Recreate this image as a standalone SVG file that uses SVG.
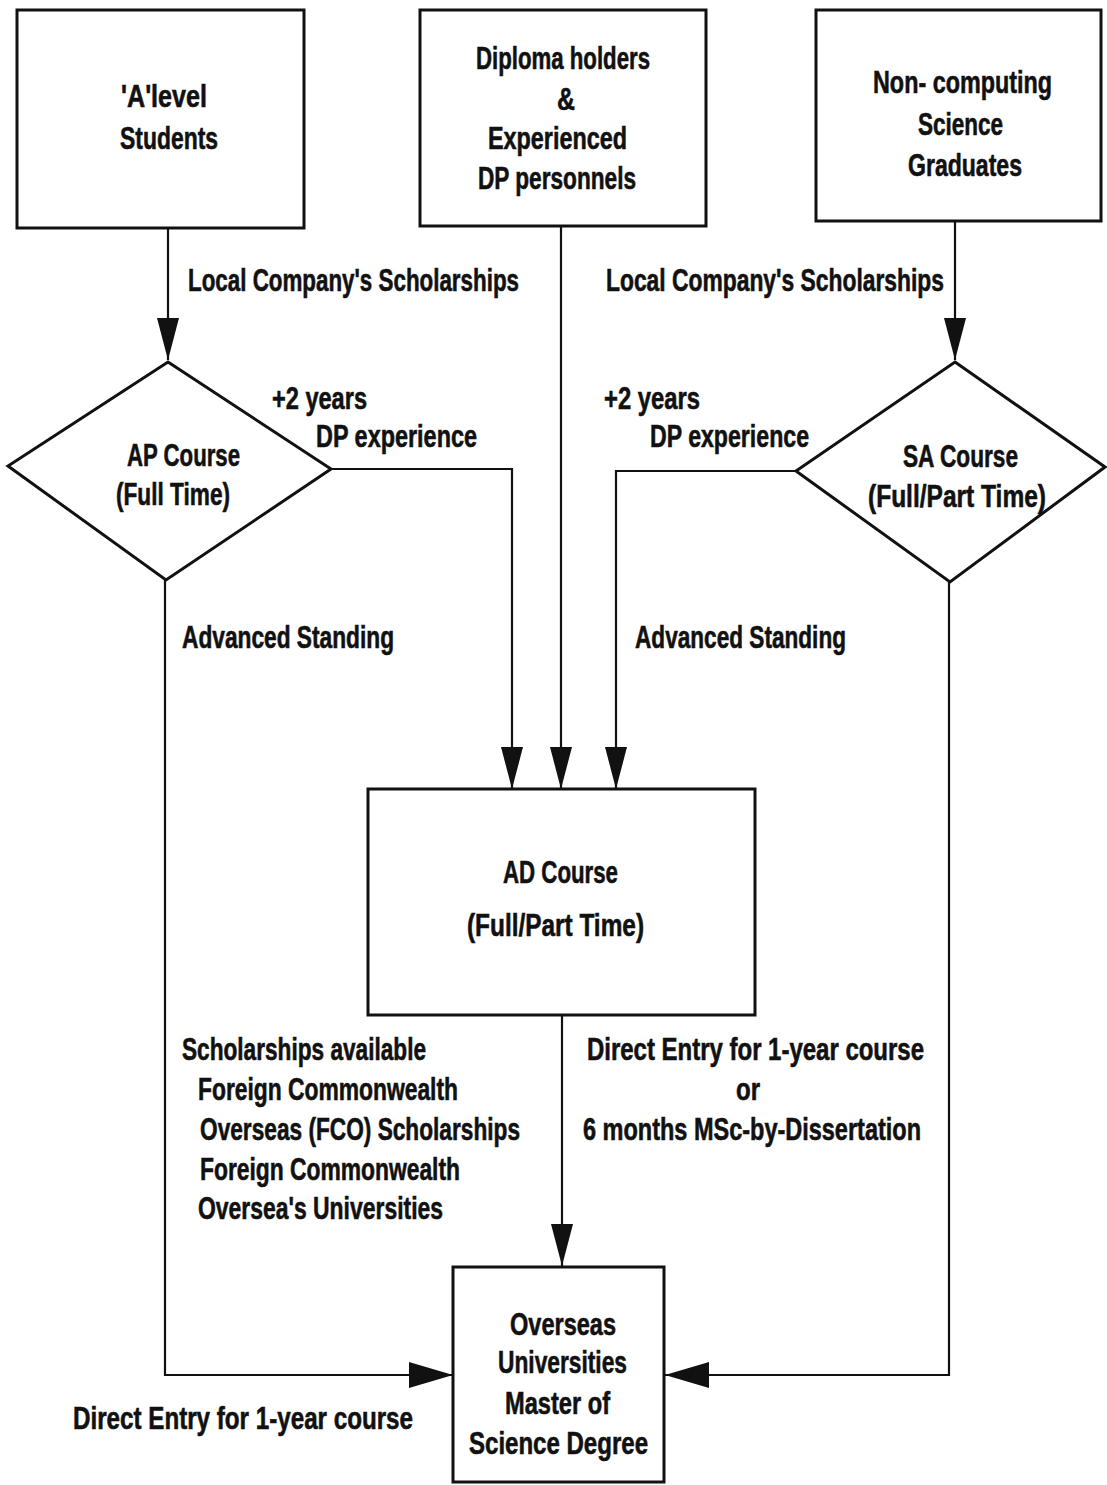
<svg xmlns="http://www.w3.org/2000/svg" width="1107" height="1485" viewBox="0 0 1107 1485">
<style>
.box{fill:#fff;stroke:#111;stroke-width:3}
.t{font-family:"Liberation Sans",Arial,sans-serif;font-weight:bold;font-size:32px;fill:#111;stroke:#111;stroke-width:0.6}
.c{fill:none;stroke:#111;stroke-width:2.2}
</style>
<defs>
<marker id="ah" viewBox="0 0 42 22" refX="42" refY="11" markerWidth="42" markerHeight="22" markerUnits="userSpaceOnUse" orient="auto">
<path d="M0,0 L42,11 L0,22 Z" fill="#111"/>
</marker>
<marker id="ahw" viewBox="0 0 44 26" refX="44" refY="13" markerWidth="44" markerHeight="26" markerUnits="userSpaceOnUse" orient="auto">
<path d="M0,0 L44,13 L0,26 Z" fill="#111"/>
</marker>
</defs>
<rect width="1107" height="1485" fill="#fff"/>

<g id="connectors">
<path class="c" d="M168,228 L168,360" marker-end="url(#ah)"/>
<path class="c" d="M955,221 L955,360" marker-end="url(#ah)"/>
<path class="c" d="M331,469 L512,469 L512,789" marker-end="url(#ah)"/>
<path class="c" d="M561,226 L561,789" marker-end="url(#ah)"/>
<path class="c" d="M796,471 L616,471 L616,789" marker-end="url(#ah)"/>
<path class="c" d="M562,1015 L562,1266" marker-end="url(#ah)"/>
<path class="c" d="M165,580 L165,1375 L453,1375" marker-end="url(#ahw)"/>
<path class="c" d="M949,582 L949,1375 L665,1375" marker-end="url(#ahw)"/>
</g>

<g id="labels">
<text class="t" x="188" y="291" textLength="331" lengthAdjust="spacingAndGlyphs">Local Company's Scholarships</text>
<text class="t" x="606" y="291" textLength="338" lengthAdjust="spacingAndGlyphs">Local Company's  Scholarships</text>
<text class="t" x="272" y="409" textLength="95" lengthAdjust="spacingAndGlyphs">+2 years</text>
<text class="t" x="316" y="447" textLength="161" lengthAdjust="spacingAndGlyphs">DP experience</text>
<text class="t" x="604" y="409" textLength="96" lengthAdjust="spacingAndGlyphs">+2 years</text>
<text class="t" x="650" y="447" textLength="159" lengthAdjust="spacingAndGlyphs">DP experience</text>
<text class="t" x="182" y="648" textLength="212" lengthAdjust="spacingAndGlyphs">Advanced Standing</text>
<text class="t" x="635" y="648" textLength="211" lengthAdjust="spacingAndGlyphs">Advanced Standing</text>
<text class="t" x="182" y="1060" textLength="244" lengthAdjust="spacingAndGlyphs">Scholarships available</text>
<text class="t" x="198" y="1100" textLength="260" lengthAdjust="spacingAndGlyphs">Foreign Commonwealth</text>
<text class="t" x="200" y="1140" textLength="320" lengthAdjust="spacingAndGlyphs">Overseas (FCO) Scholarships</text>
<text class="t" x="200" y="1180" textLength="260" lengthAdjust="spacingAndGlyphs">Foreign Commonwealth</text>
<text class="t" x="198" y="1219" textLength="245" lengthAdjust="spacingAndGlyphs">Oversea's Universities</text>
<text class="t" x="587" y="1060" textLength="337" lengthAdjust="spacingAndGlyphs">Direct Entry for  1-year course</text>
<text class="t" x="748" y="1100" text-anchor="middle" textLength="24" lengthAdjust="spacingAndGlyphs">or</text>
<text class="t" x="583" y="1140" textLength="338" lengthAdjust="spacingAndGlyphs">6 months MSc-by-Dissertation</text>
<text class="t" x="73" y="1429" textLength="340" lengthAdjust="spacingAndGlyphs">Direct Entry for 1-year course</text>
</g>

<g id="n-alevel">
<rect class="box" x="17" y="10" width="287" height="218"/>
<text class="t" x="121" y="107" textLength="86" lengthAdjust="spacingAndGlyphs">'A'level</text>
<text class="t" x="120" y="149" textLength="98" lengthAdjust="spacingAndGlyphs">Students</text>
</g>

<g id="n-diploma">
<rect class="box" x="420" y="10" width="286" height="216"/>
<text class="t" x="476" y="69" textLength="174" lengthAdjust="spacingAndGlyphs">Diploma holders</text>
<text class="t" x="566" y="110" text-anchor="middle" textLength="18" lengthAdjust="spacingAndGlyphs">&amp;</text>
<text class="t" x="488" y="149" textLength="139" lengthAdjust="spacingAndGlyphs">Experienced</text>
<text class="t" x="478" y="189" textLength="158" lengthAdjust="spacingAndGlyphs">DP personnels</text>
</g>

<g id="n-noncomp">
<rect class="box" x="816" y="10" width="285" height="211"/>
<text class="t" x="873" y="93" textLength="179" lengthAdjust="spacingAndGlyphs">Non- computing</text>
<text class="t" x="918" y="135" textLength="85" lengthAdjust="spacingAndGlyphs">Science</text>
<text class="t" x="908" y="176" textLength="114" lengthAdjust="spacingAndGlyphs">Graduates</text>
</g>

<g id="n-ap">
<polygon class="box" points="168,362 331,469 166,580 8,466"/>
<text class="t" x="127" y="466" textLength="113" lengthAdjust="spacingAndGlyphs">AP Course</text>
<text class="t" x="116" y="505" textLength="114" lengthAdjust="spacingAndGlyphs">(Full Time)</text>
</g>

<g id="n-sa">
<polygon class="box" points="955,362 1105,467 950,582 796,471"/>
<text class="t" x="903" y="467" textLength="115" lengthAdjust="spacingAndGlyphs">SA Course</text>
<text class="t" x="868" y="507" textLength="178" lengthAdjust="spacingAndGlyphs">(Full/Part Time)</text>
</g>

<g id="n-ad">
<rect class="box" x="368" y="789" width="387" height="226"/>
<text class="t" x="503" y="883" textLength="115" lengthAdjust="spacingAndGlyphs">AD Course</text>
<text class="t" x="467" y="936" textLength="177" lengthAdjust="spacingAndGlyphs">(Full/Part Time)</text>
</g>

<g id="n-overseas">
<rect class="box" x="453" y="1267" width="211" height="215"/>
<text class="t" x="510" y="1335" textLength="106" lengthAdjust="spacingAndGlyphs">Overseas</text>
<text class="t" x="498" y="1373" textLength="129" lengthAdjust="spacingAndGlyphs">Universities</text>
<text class="t" x="505" y="1414" textLength="105" lengthAdjust="spacingAndGlyphs">Master of</text>
<text class="t" x="469" y="1454" textLength="179" lengthAdjust="spacingAndGlyphs">Science  Degree</text>
</g>
</svg>
